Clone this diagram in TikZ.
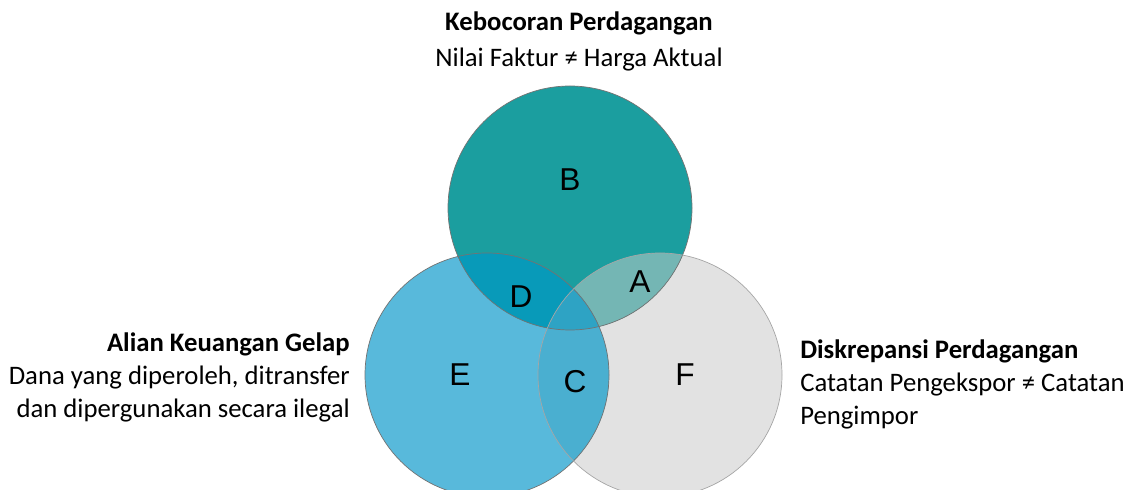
\documentclass[tikz,border=0pt]{standalone}
\usepackage{fontspec}
\setmainfont{Carlito}
\newfontfamily\letterfont{Liberation Sans}
\usepackage{xcolor}
\usetikzlibrary{positioning}

\definecolor{tealB}{HTML}{1B9E9F}
\definecolor{blueE}{HTML}{58B9DB}
\definecolor{greyF}{HTML}{E2E2E2}
\definecolor{mixA}{HTML}{74B6B4}
\definecolor{mixD}{HTML}{089AB9}
\definecolor{mixC}{HTML}{4AAFD0}
\definecolor{mixABC}{HTML}{2EA3C4}

\tikzset{
  title/.style={font=\fontsize{19}{22}\selectfont\bfseries, inner sep=0pt},
  desc/.style={font=\fontsize{19}{22}\selectfont, inner sep=0pt},
  region/.style={font=\letterfont\fontsize{22.5}{26}\selectfont, inner sep=0pt}
}

\begin{document}
\begin{tikzpicture}[x=0.025cm, y=-0.025cm]
\useasboundingbox (0,0) rectangle (1131,490);
\clip (0,0) rectangle (1131,490);

% Venn circles
\def\rad{122}
\fill[greyF] (660,375) circle (\rad);
\fill[blueE] (487,375) circle (\rad);
\fill[tealB] (570,208) circle (\rad);

% Overlaps
\begin{scope}
  \clip (570,208) circle (\rad);
  \fill[mixA] (660,375) circle (\rad);
  \fill[mixD] (487,375) circle (\rad);
\end{scope}
\begin{scope}
  \clip (487,375) circle (\rad);
  \fill[mixC] (660,375) circle (\rad);
  \clip (660,375) circle (\rad);
  \fill[mixABC] (570,208) circle (\rad);
\end{scope}

% Outlines
\draw[black!55, line width=0.5pt] (570,208) circle (\rad);
\draw[black!55, line width=0.5pt] (487,375) circle (\rad);
\draw[black!35, line width=0.5pt] (660,375) circle (\rad);

% Region letters
\node[region] (B) at (570,180) {B};
\node[region] (A) at (640,282) {A};
\node[region] (D) at (521,297) {D};
\node[region] (E) at (460,375) {E};
\node[region] (C) at (575,382) {C};
\node[region] (F) at (685,375) {F};

% Labels
\node[title] (topT) at (579,23) {Kebocoran Perdagangan};
\node[desc] (topD) at (579,60) {Nilai Faktur ≠ Harga Aktual};

\node[title, anchor=east] (leftT) at (350,344) {Alian Keuangan Gelap};
\node[desc, anchor=east] (leftD1) at (350,378) {Dana yang diperoleh, ditransfer};
\node[desc, anchor=east] (leftD2) at (350,411) {dan dipergunakan secara ilegal};

\node[title, anchor=west] (rightT) at (800,351) {Diskrepansi Perdagangan};
\node[desc, anchor=west] (rightD1) at (800,385) {Catatan Pengekspor ≠ Catatan};
\node[desc, anchor=west] (rightD2) at (800,418) {Pengimpor};
\end{tikzpicture}
\end{document}
